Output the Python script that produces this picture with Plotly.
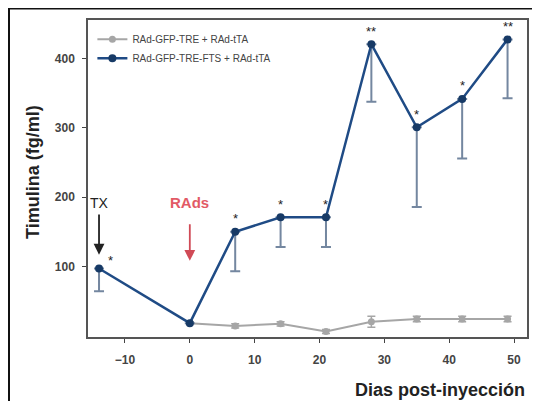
import plotly.graph_objects as go

days_fts = [-14, 0, 7, 14, 21, 28, 35, 42, 49]
timulina_fts = [97, 18, 150, 171, 171, 421, 301, 342, 428]
err_fts = [33, 0, 57, 43, 43, 83, 115, 86, 85]
stars_fts = ["*", "", "*", "*", "*", "**", "*", "*", "**"]

days_gfp = [0, 7, 14, 21, 28, 35, 42, 49]
timulina_gfp = [18, 14, 17, 6, 20, 24, 24, 24]
err_gfp = [2, 3, 3, 3, 8, 4, 4, 4]

name_gfp = "RAd-GFP-TRE + RAd-tTA"
name_fts = "RAd-GFP-TRE-FTS + RAd-tTA"

x_ticks = [-10, 0, 10, 20, 30, 40, 50]
y_ticks = [100, 200, 300, 400]

# page has an 8px body margin, so the figure is sized to fit the rest of the window
OFF = 8
W, H = 540 - OFF, 401 - OFF
ML, MR, MT, MB = 88 - OFF, 13, 20 - OFF, 64
PW, PH = W - ML - MR, H - MT - MB

fig = go.Figure()
fig.add_trace(go.Scatter(
    x=days_gfp, y=timulina_gfp, name=name_gfp, mode="lines+markers",
    line=dict(color="#a6a6a6", width=2),
    marker=dict(color="#a6a6a6", size=7),
    error_y=dict(type="data", array=err_gfp, arrayminus=err_gfp,
                 color="#a6a6a6", thickness=1.5, width=4),
))
fig.add_trace(go.Scatter(
    x=days_fts, y=timulina_fts, name=name_fts, mode="lines+markers",
    line=dict(color="#1f4b85", width=2.5),
    marker=dict(color="#173a66", size=8),
    error_y=dict(type="data", symmetric=False, array=[0] * len(err_fts),
                 arrayminus=err_fts, color="#7487a0", thickness=2, width=5),
))

# significance asterisks
for xd, yv, s in zip(days_fts, timulina_fts, stars_fts):
    if not s:
        continue
    if xd == -14:
        fig.add_annotation(x=xd, y=yv, text=s, showarrow=False, xshift=11, yshift=8,
                           font=dict(size=13, color="#222", family="Liberation Sans"))
    else:
        fig.add_annotation(x=xd, y=yv, text=s, showarrow=False, yshift=13,
                           font=dict(size=13, color="#222", family="Liberation Sans"))

# TX arrow
fig.add_annotation(x=-14, y=192, text="TX", showarrow=False,
                   font=dict(size=14, color="#222", family="Liberation Sans"))
fig.add_annotation(x=-14, y=117, ax=-14, ay=177, axref="x", ayref="y", text="",
                   showarrow=True, arrowhead=2, arrowsize=1.2, arrowwidth=1.8, arrowcolor="#222")
# RAds arrow
fig.add_annotation(x=0, y=193, text="<b>RAds</b>", showarrow=False,
                   font=dict(size=15, color="#e25a66", family="Liberation Sans"))
fig.add_annotation(x=0, y=108, ax=0, ay=163, axref="x", ayref="y", text="",
                   showarrow=True, arrowhead=2, arrowsize=1.2, arrowwidth=1.8, arrowcolor="#d04a56")

# axis titles
fig.add_annotation(xref="paper", yref="paper", x=1.0, y=-53 / PH,
                   xanchor="right", yanchor="middle", showarrow=False,
                   text="<b>Dias post-inyección</b>",
                   font=dict(size=18, color="#222", family="Liberation Sans Narrow, Liberation Sans"))
fig.add_annotation(xref="paper", yref="paper", x=(33 - OFF - ML) / PW,
                   y=(H - MB - (172 - OFF)) / PH,
                   xanchor="center", yanchor="middle", showarrow=False, textangle=-90,
                   text="<b>Timulina (fg/ml)</b>",
                   font=dict(size=18, color="#222", family="Liberation Sans Narrow, Liberation Sans"))

# outer frame
fig.add_shape(type="rect", xref="paper", yref="paper",
              x0=(9 - OFF - ML) / PW, x1=(W + 20 - ML) / PW,
              y0=-(MB + 20) / PH, y1=1 + (MT - 0.5) / PH,
              line=dict(color="#111", width=2), layer="below")

fig.update_layout(
    width=W, height=H,
    margin=dict(l=ML, r=MR, t=MT, b=MB),
    paper_bgcolor="white", plot_bgcolor="white",
    font=dict(family="Liberation Sans", color="#333"),
    showlegend=True,
    legend=dict(x=0.01, y=0.985, xanchor="left", yanchor="top",
                font=dict(size=10, color="#444"), bgcolor="rgba(0,0,0,0)",
                itemwidth=30, tracegroupgap=0),
    xaxis=dict(range=[-15.7, 52], tickvals=x_ticks, ticks="outside", ticklen=4,
               showgrid=False, zeroline=False, showline=True, linecolor="#555",
               linewidth=1.5, mirror=True, automargin=False, ticklabelstandoff=7,
               tickfont=dict(size=12, color="#444", family="Liberation Sans Narrow, Liberation Sans", weight="bold")),
    yaxis=dict(range=[-2, 456], tickvals=y_ticks, ticks="outside", ticklen=4,
               showgrid=False, zeroline=False, showline=True, linecolor="#555",
               linewidth=1.5, mirror=True, automargin=False, ticklabelstandoff=5,
               tickfont=dict(size=12, color="#444", family="Liberation Sans Narrow, Liberation Sans", weight="bold")),
)
fig.write_html("out.html")
